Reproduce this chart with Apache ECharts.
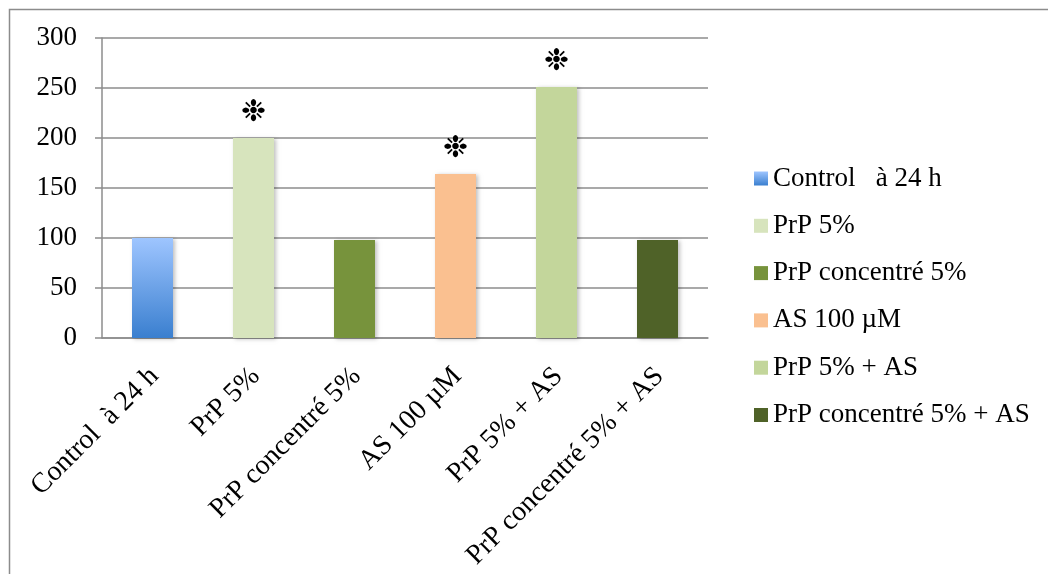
<!DOCTYPE html>
<html>
<head>
<meta charset="utf-8">
<script src="https://cdn.jsdelivr.net/npm/echarts@6/dist/echarts.min.js"></script>
<style>html,body{margin:0;padding:0;background:#fff}#c{width:1048px;height:574px}</style>
</head>
<body>
<div id="c"></div>
<script>
const categories = ['Control   à 24 h', 'PrP 5%', 'PrP concentré 5%', 'AS 100 µM', 'PrP 5% + AS', 'PrP concentré 5% + AS'];
const axisLabels = ['Control  à 24 h', 'PrP 5%', 'PrP concentré 5%', 'AS 100 µM', 'PrP 5% + AS', 'PrP concentré 5% + AS'];
const values = [100, 200, 98, 164, 251, 98];
const significance = ['', '❉', '', '❉', '❉', ''];
const yTicks = [0, 50, 100, 150, 200, 250, 300];

const FONT = 'Liberation Serif';
const colors = [
  new echarts.graphic.LinearGradient(0, 0, 0, 1, [{offset: 0, color: '#9ec5ff'}, {offset: 1, color: '#3a7fcf'}]),
  '#d7e4bd', '#77933c', '#fac090', '#c3d69b', '#4f6228'
];

const series = categories.map((name, i) => ({
  name: name,
  type: 'bar',
  barWidth: 41,
  barGap: '-100%',
  xAxisIndex: 0,
  yAxisIndex: 0,
  itemStyle: {color: colors[i], shadowBlur: 4, shadowColor: 'rgba(0,0,0,0.25)', shadowOffsetX: 2, shadowOffsetY: 1},
  data: categories.map((c, j) => j === i ? {
    value: values[i],
    label: {show: significance[i] !== '', formatter: significance[i], position: 'top', distance: 10,
      fontFamily: 'DejaVu Sans', fontSize: 30, color: '#000'}
  } : '-')
}));

const chart = echarts.init(document.getElementById('c'));
chart.setOption({
  animation: false,
  graphic: [{type: 'rect', shape: {x: 9.5, y: 9.5, width: 1200, height: 700}, style: {fill: 'none', stroke: '#8c8c8c', lineWidth: 1.5}, silent: true}],
  grid: [
    {left: 102, right: 340, top: 38, bottom: 236},
    {left: 104, right: 338, top: 38, bottom: 236}
  ],
  legend: {
    orient: 'vertical', left: 749, top: 160, itemGap: 20.3, itemWidth: 14, itemHeight: 14, icon: 'rect',
    data: categories,
    textStyle: {fontFamily: FONT, fontSize: 27, color: '#000', lineHeight: 26}
  },
  xAxis: [
    {type: 'category', gridIndex: 0, data: categories,
      axisLine: {lineStyle: {color: '#8c8c8c', width: 1.5}},
      axisTick: {length: 8, lineStyle: {color: '#8c8c8c', width: 1.5}},
      axisLabel: {show: false}},
    {type: 'category', gridIndex: 1, data: axisLabels,
      axisLine: {show: false}, axisTick: {show: false},
      axisLabel: {rotate: 45, margin: 34, interval: 0, fontFamily: FONT, fontSize: 28, color: '#000'}}
  ],
  yAxis: [
    {type: 'value', gridIndex: 0, min: 0, max: 300, interval: 50,
      axisLine: {show: true, lineStyle: {color: '#8c8c8c', width: 1.5}},
      axisTick: {show: true, length: 7, lineStyle: {color: '#8c8c8c', width: 1.5}},
      splitLine: {lineStyle: {color: '#8c8c8c', width: 1.5}},
      axisLabel: {margin: 25, fontFamily: FONT, fontSize: 27, color: '#000',
        formatter: v => yTicks.includes(v) ? String(v) : ''}},
    {type: 'value', gridIndex: 1, min: 0, max: 300, show: false}
  ],
  series: series
});
</script>
</body>
</html>
